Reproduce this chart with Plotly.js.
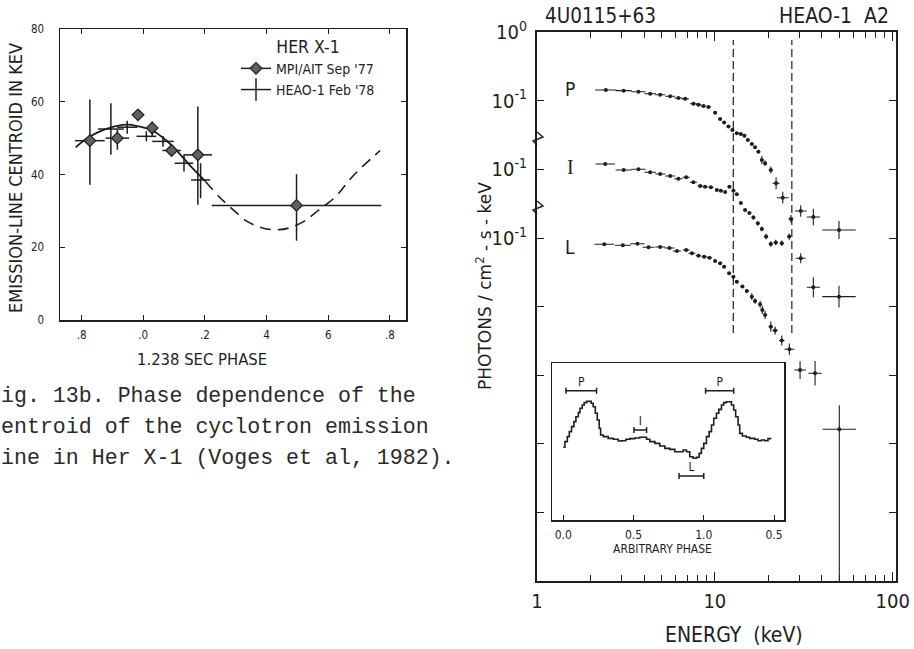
<!DOCTYPE html>
<html><head><meta charset="utf-8">
<script src="https://cdn.plot.ly/plotly-3.0.1.min.js"></script>
<style>html,body{margin:0;padding:0;background:#fff}#chart{width:914px;height:649px}</style>
</head><body><div id="chart"></div>
<script>
// ---------------- Left panel: Her X-1 emission-line centroid vs 1.238 s phase ----------------
const mpiPhase    = [-0.173, -0.084, -0.017, 0.029, 0.092, 0.177, 0.497];
const mpiKeV      = [49.3, 50.0, 56.4, 52.8, 46.6, 45.4, 31.5];
const mpiErrHi    = [11.3, 2.3, 0.8, 1.8, 1.5, 13.3, 8.6];
const mpiErrLo    = [12.1, 3.2, 0.8, 2.5, 1.5, 13.7, 9.7];
const mpiPhaseErr = [0.048, 0.038, 0.012, 0.012, 0.03, 0.046, 0.275];

const heaoPhase    = [-0.105, -0.052, 0.010, 0.064, 0.132, 0.186];
const heaoKeV      = [52.5, 53.0, 50.5, 49.1, 43.1, 38.5];
const heaoErrHi    = [7.1, 1.8, 1.4, 1.5, 2.3, 4.6];
const heaoErrLo    = [7.1, 1.8, 1.4, 1.5, 2.3, 5.0];
const heaoPhaseErr = [0.042, 0.033, 0.032, 0.035, 0.03, 0.031];

const fitPhase     = [-0.219, -0.176, -0.122, -0.052, -0.014, 0.029, 0.073, 0.116, 0.159, 0.202];
const fitKeV       = [47.5, 50.3, 52.5, 53.7, 53.2, 52.1, 49.5, 45.9, 41.8, 38.1];
const fitPhaseDash = [0.202, 0.246, 0.289, 0.337, 0.386, 0.429, 0.473, 0.521, 0.570, 0.624, 0.678, 0.768];
const fitKeVDash   = [38.1, 33.9, 30.5, 27.1, 25.3, 24.8, 25.3, 27.1, 30.3, 33.9, 39.4, 46.6];

const phaseTickVals = [-0.2, 0, 0.2, 0.4, 0.6, 0.8];
const phaseTickText = ['.8', '.0', '.2', '4', '6', '.8'];
const keVTickVals   = [0, 20, 40, 60, 80];

// ---------------- Right panel: 4U0115+63 phase-resolved spectra (HEAO-1 A2) ----------------
const specNames   = ['P', 'I', 'L'];
const specOffsets = [1, 0.1, 0.01];   // each spectrum shifted down one decade

const P_E = [2.44, 3.07, 3.72, 4.33, 4.93, 5.61, 6.24, 6.81, 7.58, 8.09, 8.63, 9.21, 10.04, 10.71, 11.28, 11.93, 12.56, 13.29, 14.00, 14.67, 15.33, 16.14, 16.84, 17.58, 18.37, 19.17, 20.64, 22.10, 24.10, 26.8, 30.4, 35.8, 49.9];
const P_F = [0.144, 0.141, 0.136, 0.127, 0.123, 0.117, 0.110, 0.107, 0.0910, 0.0881, 0.0843, 0.0815, 0.0673, 0.0545, 0.0484, 0.0423, 0.0377, 0.0337, 0.0329, 0.0311, 0.0269, 0.0235, 0.0211, 0.0182, 0.0137, 0.0123, 0.00983, 0.00630, 0.00388, 0.00190, 0.00248, 0.00203, 0.00131];
const P_dlogE = [0.06, 0.045, 0.04, 0.033, 0.028, 0.028, 0.023, 0.02, 0.02, 0.015, 0.015, 0.015, 0.01, 0.01, 0.01, 0.01, 0.01, 0.01, 0.01, 0.01, 0.01, 0.01, 0.01, 0.01, 0.01, 0.01, 0.012, 0.02, 0.033, 0.015, 0.033, 0.037, 0.094];
const P_dlogF = [0, 0, 0, 0, 0, 0, 0, 0, 0, 0, 0, 0, 0, 0, 0, 0, 0, 0, 0, 0, 0, 0, 0, 0, 0.06, 0.04, 0.05, 0.087, 0.085, 0.058, 0.085, 0.12, 0.13];

const I_E = [2.42, 3.07, 3.72, 4.33, 4.93, 5.61, 6.24, 6.90, 7.58, 8.27, 8.82, 9.50, 10.26, 10.81, 11.43, 12.08, 12.72, 13.29, 14.00, 14.80, 15.65, 16.48, 17.44, 18.37, 19.42, 20.64, 22.01, 23.79, 26.2, 30.4, 35.8, 49.9];
const I_F = [0.120, 0.0983, 0.1007, 0.0910, 0.0859, 0.0804, 0.0734, 0.0769, 0.0650, 0.0574, 0.0561, 0.0551, 0.0503, 0.0491, 0.0470, 0.0561, 0.0491, 0.0435, 0.0325, 0.0257, 0.0232, 0.0200, 0.0164, 0.0136, 0.0105, 0.0082, 0.00863, 0.0084, 0.0105, 0.00508, 0.00192, 0.00140];
const I_dlogE = [0.055, 0.045, 0.04, 0.033, 0.028, 0.028, 0.023, 0.02, 0.02, 0.015, 0.015, 0.015, 0.01, 0.01, 0.01, 0.01, 0.01, 0.01, 0.01, 0.01, 0.01, 0.01, 0.01, 0.01, 0.01, 0.012, 0.012, 0.012, 0.012, 0.028, 0.037, 0.094];
const I_dlogF = [0, 0, 0, 0, 0, 0, 0, 0, 0, 0, 0, 0, 0, 0, 0, 0, 0, 0, 0, 0, 0.02, 0.03, 0.03, 0.035, 0.04, 0.04, 0.04, 0.04, 0.045, 0.073, 0.146, 0.16];

const L_E = [2.39, 3.04, 3.67, 4.24, 4.93, 5.56, 6.12, 6.90, 7.43, 8.09, 8.71, 9.33, 10.04, 10.71, 11.28, 12.03, 12.72, 13.29, 14.29, 15.13, 16.14, 16.84, 17.97, 18.5, 19.17, 20.64, 21.82, 23.79, 26.25, 30.15, 36.6, 50.1];
const L_F = [0.0812, 0.0785, 0.0828, 0.0734, 0.0742, 0.0718, 0.0649, 0.0671, 0.0600, 0.0554, 0.0535, 0.0518, 0.0464, 0.0429, 0.0383, 0.0307, 0.0274, 0.0231, 0.0196, 0.0169, 0.0140, 0.0121, 0.0108, 0.00895, 0.00757, 0.00511, 0.00450, 0.00321, 0.00239, 0.00119, 0.00107, 0.000163];
const L_dlogE = [0.055, 0.045, 0.04, 0.033, 0.028, 0.028, 0.023, 0.02, 0.02, 0.015, 0.015, 0.015, 0.01, 0.01, 0.01, 0.01, 0.01, 0.01, 0.01, 0.01, 0.01, 0.01, 0.01, 0.01, 0.012, 0.012, 0.015, 0.015, 0.028, 0.033, 0.037, 0.094];
const L_dlogF   = [0, 0, 0, 0, 0, 0, 0, 0, 0, 0, 0, 0, 0, 0, 0, 0, 0, 0, 0, 0.03, 0.05, 0.04, 0.05, 0.058, 0.058, 0.075, 0.058, 0.073, 0.085, 0.13, 0.18, 0.35];
const L_dlogFlo = [0, 0, 0, 0, 0, 0, 0, 0, 0, 0, 0, 0, 0, 0, 0, 0, 0, 0, 0, 0.03, 0.05, 0.04, 0.05, 0.058, 0.058, 0.075, 0.058, 0.073, 0.085, 0.13, 0.18, 6];

const cyclotronKeV = [12.7, 27.1];   // dashed vertical markers

const energyTickVals  = [1, 10, 100];
const energyTickText  = ['1', '10', '100'];
const energyMinorVals = [2, 3, 4, 5, 6, 7, 8, 9, 20, 30, 40, 50, 60, 70, 80, 90];
const fluxTickVals  = [1, 0.1, 0.01, 0.001];
const fluxTickText  = ['10<sup>0</sup>', '10<sup>-1</sup>', '10<sup>-1</sup>', '10<sup>-1</sup>'];
const fluxMinorVals = [1e-4, 1e-5, 1e-6, 1e-7];

// ---------------- Inset: pulse profile ----------------
const insetPhase = [0.000, 0.012, 0.029, 0.043, 0.059, 0.076, 0.090, 0.107, 0.119, 0.135, 0.149, 0.166, 0.185, 0.199, 0.213, 0.228, 0.242, 0.256, 0.266, 0.285, 0.320, 0.356, 0.391, 0.415, 0.446, 0.474, 0.510, 0.545, 0.569, 0.593, 0.616, 0.652, 0.687, 0.723, 0.758, 0.794, 0.829, 0.853, 0.877, 0.900, 0.924, 0.948, 0.967, 0.983, 1.000, 1.019, 1.038, 1.055, 1.071, 1.090, 1.107, 1.126, 1.142, 1.161, 1.185, 1.197, 1.213, 1.227, 1.244, 1.256, 1.275, 1.303, 1.327, 1.362, 1.386, 1.410, 1.434, 1.457, 1.481];
const insetRate  = [46.4, 50.0, 53.2, 56.4, 59.6, 62.8, 65.9, 68.5, 71.3, 73.4, 74.9, 75.7, 75.7, 74.5, 72.3, 68.1, 63.8, 58.5, 54.2, 53.2, 52.1, 51.5, 50.4, 50.6, 51.5, 51.9, 52.3, 52.8, 52.8, 51.5, 50.0, 48.9, 47.2, 45.7, 45.1, 43.6, 43.6, 44.7, 43.6, 40.4, 39.4, 40.0, 42.5, 45.7, 48.9, 53.2, 56.4, 60.6, 64.9, 68.1, 70.6, 73.4, 74.9, 75.5, 75.5, 73.4, 70.2, 65.9, 60.6, 55.3, 53.6, 52.8, 52.1, 51.5, 50.6, 51.1, 50.6, 51.9, 51.9];
const selLabels  = ['P', 'I', 'L', 'P'];
const selCenter  = [0.128, 0.548, 0.912, 1.113];
const selHalf    = [0.109, 0.045, 0.088, 0.100];
const selLevel   = [82.5, 57.4, 28.1, 82.5];
const insetTickVals = [0, 0.5, 1.0, 1.5];
const insetTickText = ['0.0', '0.5', '1.0', '0.5'];

// ---------------- geometry helpers (page pixels -> paper) ----------------
const W = 914, H = 649;
const px = x => x / W, py = y => 1 - y / H;
const INK = '#1e1e1e';
const PLOTFONT = '"DejaVu Sans Condensed", "DejaVu Sans", sans-serif';
const LETTER = '"DejaVu Sans Condensed", "Liberation Sans Narrow", "DejaVu Sans", sans-serif';

const up = (v, d) => v.map((x, i) => x * (Math.pow(10, d[i]) - 1));
const dn = (v, d) => v.map((x, i) => x * (1 - Math.pow(10, -d[i])));
const scale = (v, k) => v.map(x => x * k);

const traces = [];
// left panel
traces.push({x: fitPhase, y: fitKeV, xaxis: 'x', yaxis: 'y', mode: 'lines', showlegend: false,
  line: {color: INK, width: 1.8, shape: 'spline', smoothing: 1}, hoverinfo: 'skip'});
traces.push({x: fitPhaseDash, y: fitKeVDash, xaxis: 'x', yaxis: 'y', mode: 'lines', showlegend: false,
  line: {color: INK, width: 1.6, dash: '11px,7px', shape: 'spline', smoothing: 1}, hoverinfo: 'skip'});
traces.push({x: heaoPhase, y: heaoKeV, xaxis: 'x', yaxis: 'y', mode: 'markers', name: "HEAO-1 Feb '78", showlegend: false,
  marker: {size: 2, color: INK},
  error_y: {type: 'data', symmetric: false, array: heaoErrHi, arrayminus: heaoErrLo, color: INK, thickness: 1.5, width: 0},
  error_x: {type: 'data', array: heaoPhaseErr, color: INK, thickness: 1.5, width: 0}});
traces.push({x: mpiPhase, y: mpiKeV, xaxis: 'x', yaxis: 'y', mode: 'markers', name: "MPI/AIT Sep '77", showlegend: false,
  marker: {symbol: 'diamond', size: 9, color: '#606060', line: {color: INK, width: 1.2}},
  error_y: {type: 'data', symmetric: false, array: mpiErrHi, arrayminus: mpiErrLo, color: INK, thickness: 1.5, width: 0},
  error_x: {type: 'data', array: mpiPhaseErr, color: INK, thickness: 1.5, width: 0}});
// legend entries for the left panel
traces.push({x: [null], y: [null], xaxis: 'x', yaxis: 'y', mode: 'lines+markers', name: "MPI/AIT Sep '77",
  line: {color: INK, width: 1.5}, marker: {symbol: 'diamond', size: 9, color: '#606060', line: {color: INK, width: 1.2}}});
traces.push({x: [null], y: [null], xaxis: 'x', yaxis: 'y', mode: 'lines+markers', name: "HEAO-1 Feb '78",
  line: {color: INK, width: 1.5}, marker: {symbol: 'line-ns-open', size: 16, color: INK, line: {color: INK, width: 1.5}}});

// right panel spectra
const specs = [
  {E: P_E, F: P_F, dE: P_dlogE, dF: P_dlogF, dFlo: P_dlogF},
  {E: I_E, F: I_F, dE: I_dlogE, dF: I_dlogF, dFlo: I_dlogF},
  {E: L_E, F: L_F, dE: L_dlogE, dF: L_dlogF, dFlo: L_dlogFlo}
];
specs.forEach((s, k) => {
  const y = scale(s.F, specOffsets[k]);
  traces.push({x: s.E, y: y, xaxis: 'x2', yaxis: 'y2', mode: 'markers', name: specNames[k], showlegend: false,
    marker: {size: 4, color: INK},
    error_x: {type: 'data', symmetric: false, array: up(s.E, s.dE), arrayminus: dn(s.E, s.dE), color: INK, thickness: 1.1, width: 0},
    error_y: {type: 'data', symmetric: false, array: up(y, s.dF), arrayminus: dn(y, s.dFlo), color: INK, thickness: 1.1, width: 0}});
});

// inset
traces.push({x: insetPhase, y: insetRate, xaxis: 'x3', yaxis: 'y3', mode: 'lines', showlegend: false,
  line: {color: INK, width: 1.6, shape: 'hv'}});
traces.push({x: selCenter, y: selLevel, xaxis: 'x3', yaxis: 'y3', mode: 'markers+text', showlegend: false,
  text: selLabels, textposition: 'top center', textfont: {family: LETTER, size: 12, color: INK},
  marker: {size: 1, color: INK},
  error_x: {type: 'data', array: selHalf, color: INK, thickness: 1.5, width: 3}});

const axBase = {showgrid: false, zeroline: false, showline: true, linecolor: INK, tickcolor: INK, color: INK};

const shapes = cyclotronKeV.map(e => ({type: 'line', xref: 'x2', yref: 'paper', x0: e, x1: e,
  y0: py(333), y1: py(40), line: {color: INK, width: 1.2, dash: '8px,4px'}}));
// axis-break marks on the spectrum frame
[140, 209].forEach(yc => shapes.push({type: 'path', xref: 'paper', yref: 'paper',
  path: `M ${px(537)} ${py(yc - 8)} L ${px(543)} ${py(yc - 3)} L ${px(533)} ${py(yc + 1)} L ${px(537)} ${py(yc + 5)}`,
  line: {color: INK, width: 1.4}}));

const capFont = {family: '"Liberation Mono", "DejaVu Sans Mono", monospace', size: 21.6, color: '#2a2a2a'};
const ann = (text, x, y, font, extra) => Object.assign({text, xref: 'paper', yref: 'paper', x: px(x), y: py(y),
  xanchor: 'center', yanchor: 'middle', showarrow: false, font}, extra || {});

const annotations = [
  ann('EMISSION-LINE CENTROID IN KEV', 15, 178, {family: PLOTFONT, size: 18, color: INK}, {textangle: -90}),
  ann('1.238 SEC PHASE', 202, 360, {family: PLOTFONT, size: 16.5, color: INK}),
  ann('ig. 13b. Phase dependence of the', -1, 396, capFont, {xanchor: 'left'}),
  ann('entroid of the cyclotron emission', -1, 427, capFont, {xanchor: 'left'}),
  ann('ine in Her X-1 (Voges et al, 1982).', -1, 458, capFont, {xanchor: 'left'}),
  ann('4U0115+63', 600, 16, {family: LETTER, size: 20.5, color: INK}),
  ann('HEAO-1  A2', 834, 16, {family: LETTER, size: 21, color: INK}),
  ann('P', 570, 89, {family: LETTER, size: 19, color: INK}),
  ann('I', 570, 167, {family: 'Liberation Serif, serif', size: 20, color: INK}),
  ann('L', 570, 247, {family: LETTER, size: 19, color: INK}),
  ann('PHOTONS / cm<sup>2</sup> - s - keV', 484, 286, {family: '"DejaVu Sans", sans-serif', size: 17, color: INK}, {textangle: -90}),
  ann('ENERGY  (keV)', 734, 635, {family: LETTER, size: 21, color: INK}),
  ann('ARBITRARY PHASE', 662, 549, {family: LETTER, size: 12, color: INK})
];

const layout = {
  width: W, height: H, margin: {l: 0, r: 0, t: 0, b: 0},
  paper_bgcolor: '#fff', plot_bgcolor: 'rgba(0,0,0,0)',
  font: {family: PLOTFONT, color: INK},
  xaxis: Object.assign({}, axBase, {domain: [px(60), px(406)], range: [-0.270, 0.852],
    tickmode: 'array', tickvals: phaseTickVals, ticktext: phaseTickText,
    ticks: 'inside', ticklen: 5, mirror: 'allticks', linewidth: 1.5, ticklabelstandoff: 4,
    tickfont: {size: 11.5, family: PLOTFONT}}),
  yaxis: Object.assign({}, axBase, {domain: [py(320), py(29)], range: [0, 80],
    tickmode: 'array', tickvals: keVTickVals,
    ticks: 'inside', ticklen: 5, mirror: 'allticks', linewidth: 1.5, ticklabelstandoff: 12,
    tickfont: {size: 11.5, family: PLOTFONT}}),
  xaxis2: Object.assign({}, axBase, {domain: [px(537), px(895.7)], type: 'log', range: [0, 2.017],
    tickmode: 'array', tickvals: energyTickVals, ticktext: energyTickText,
    ticks: 'inside', ticklen: 9, mirror: 'allticks', linewidth: 2, ticklabelstandoff: 1,
    minor: {tickmode: 'array', tickvals: energyMinorVals, ticks: 'inside', ticklen: 6, tickcolor: INK},
    tickfont: {size: 20, family: LETTER}}),
  yaxis2: Object.assign({}, axBase, {domain: [py(581), py(32.3)], type: 'log', range: [-8, 0],
    tickmode: 'array', tickvals: fluxTickVals, ticktext: fluxTickText,
    ticks: 'inside', ticklen: 7, mirror: 'allticks', linewidth: 2, ticklabelstandoff: 4,
    minor: {tickmode: 'array', tickvals: fluxMinorVals, ticks: 'inside', ticklen: 7, tickcolor: INK},
    tickfont: {size: 20, family: LETTER}}),
  xaxis3: Object.assign({}, axBase, {domain: [px(552.3), px(784)], range: [-0.078, 1.571], anchor: 'y3',
    tickmode: 'array', tickvals: insetTickVals, ticktext: insetTickText,
    ticks: 'inside', ticklen: 5, mirror: true, linewidth: 1.6, ticklabelstandoff: 3,
    tickfont: {size: 12, family: LETTER}}),
  yaxis3: Object.assign({}, axBase, {domain: [py(520), py(363.3)], range: [0, 100], anchor: 'x3',
    showticklabels: false, ticks: '', mirror: true, linewidth: 1.6}),
  legend: {x: px(236), y: py(30), xanchor: 'left', yanchor: 'top', bgcolor: 'rgba(0,0,0,0)',
    font: {size: 14, family: PLOTFONT, color: INK}, tracegroupgap: 0,
    title: {text: 'HER X-1', side: 'top center', font: {size: 17.5, family: PLOTFONT, color: INK}}},
  shapes, annotations
};
layout.xaxis2.anchor = 'y2'; layout.yaxis2.anchor = 'x2';

Plotly.newPlot('chart', traces, layout, {staticPlot: true, displayModeBar: false});
</script>
</body></html>
